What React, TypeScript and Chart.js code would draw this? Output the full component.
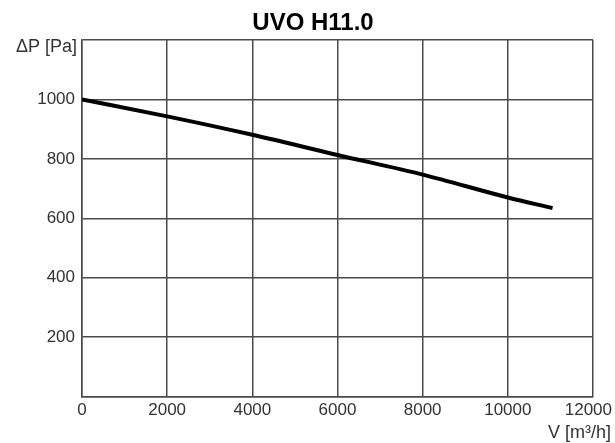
import React, { useEffect, useRef } from "react";
import { Chart, registerables } from "chart.js";

Chart.register(...registerables);

const chartTitle = "UVO H11.0";
const yAxisLabel = "ΔP [Pa]";
const xAxisLabel = "V [m³/h]";
const flowValues = [0, 2000, 4000, 6000, 8000, 10000, 11050];
const pressureValues = [1000, 943, 881, 813, 747, 670, 634];
const xTickValues = [0, 2000, 4000, 6000, 8000, 10000, 12000];
const yTickValues = [0, 200, 400, 600, 800, 1000, 1200];
const yShownTicks = [200, 400, 600, 800, 1000];

const FONT = "'Liberation Sans', Arial, sans-serif";

const textPlugin = {
  id: "textPlugin",
  afterDraw(chart: any) {
    const ctx = chart.ctx as CanvasRenderingContext2D;
    const xs = chart.scales.x;
    const area = chart.chartArea;
    ctx.save();
    // x tick labels
    ctx.font = `17px ${FONT}`;
    ctx.fillStyle = "#333";
    ctx.textBaseline = "middle";
    ctx.textAlign = "center";
    xTickValues.forEach((v) => {
      const label = String(v);
      const w = ctx.measureText(label).width;
      let cx = xs.getPixelForValue(v);
      const maxRight = chart.width - 3;
      if (cx + w / 2 > maxRight) cx = maxRight - w / 2;
      ctx.fillText(label, cx, area.bottom + 14);
    });
    // title
    ctx.font = `bold 24px ${FONT}`;
    ctx.fillStyle = "#000";
    ctx.textAlign = "center";
    ctx.fillText(chartTitle, 313, 23);
    // y axis label
    ctx.font = `18px ${FONT}`;
    ctx.fillStyle = "#333";
    ctx.textAlign = "right";
    ctx.fillText(yAxisLabel, area.left - 5, 47);
    // x axis label
    ctx.textAlign = "right";
    ctx.fillText(xAxisLabel, chart.width - 4, 433);
    ctx.restore();
  },
};

export default function App() {
  const ref = useRef<HTMLCanvasElement | null>(null);
  useEffect(() => {
    if (!ref.current) return;
    const chart = new Chart(ref.current, {
      type: "line",
      data: {
        datasets: [
          {
            data: flowValues.map((x, i) => ({ x, y: pressureValues[i] })),
            borderColor: "#000",
            borderWidth: 4,
            pointRadius: 0,
            fill: false,
            cubicInterpolationMode: "monotone",
          },
        ],
      },
      options: {
        animation: false,
        responsive: false,
        devicePixelRatio: 1,
        layout: { padding: { left: 0, top: 40, right: 22, bottom: 0 } },
        plugins: {
          legend: { display: false },
          tooltip: { enabled: false },
          title: { display: false },
        },
        scales: {
          x: {
            type: "linear",
            min: 0,
            max: 12000,
            afterBuildTicks: (s: any) => {
              s.ticks = xTickValues.map((v) => ({ value: v }));
            },
            afterFit: (s: any) => {
              s.height = 46.5;
            },
            ticks: { display: false },
            grid: { color: "#4a4a4a", lineWidth: 1.5, drawTicks: false },
            border: { color: "#4a4a4a", width: 1.5 },
          },
          y: {
            type: "linear",
            min: 0,
            max: 1200,
            afterBuildTicks: (s: any) => {
              s.ticks = yTickValues.map((v) => ({ value: v }));
            },
            afterFit: (s: any) => {
              s.width = 82;
            },
            ticks: {
              padding: 7,
              color: "#333",
              font: { family: FONT, size: 17 },
              callback: (v: any) => (yShownTicks.includes(Number(v)) ? String(v) : ""),
            },
            grid: { color: "#4a4a4a", lineWidth: 1.5, drawTicks: false },
            border: { color: "#4a4a4a", width: 1.5 },
          },
        },
      },
      plugins: [textPlugin],
    } as any);
    return () => chart.destroy();
  }, []);
  return (
    <div style={{ position: "fixed", left: 0, top: 0, width: 615, height: 443, background: "#fff" }}>
      <canvas ref={ref} width={615} height={443} style={{ display: "block" }} />
    </div>
  );
}
